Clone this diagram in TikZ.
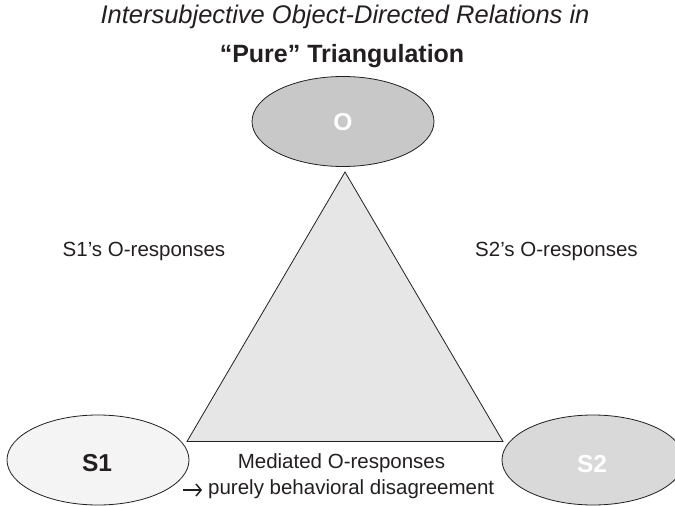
\documentclass[tikz,border=0pt]{standalone}
\usepackage{fontspec}
\setmainfont{Liberation Sans}
\usetikzlibrary{shapes.geometric,arrows.meta}
\definecolor{txt}{HTML}{231F20}
\definecolor{ofill}{HTML}{C8C8C8}
\definecolor{trifill}{HTML}{E6E6E6}
\definecolor{sonefill}{HTML}{F4F4F4}
\definecolor{stwofill}{HTML}{D9D9D9}
\tikzset{
  oval/.style={ellipse, draw=txt, line width=0.8pt, minimum width=182pt, minimum height=90pt, inner sep=0pt},
  ovaltext/.style={font=\fontsize{24.5}{28}\selectfont\bfseries, inner sep=0pt},
  lbl/.style={font=\fontsize{20.5}{24}\selectfont, text=txt, inner sep=0pt},
  ttl/.style={font=\fontsize{25}{30}\selectfont, text=txt, inner sep=0pt},
  textarrow/.style={draw=txt, line width=1.5pt, -{Straight Barb[length=5pt,width=12pt,line width=1.5pt]}}
}
\begin{document}
\begin{tikzpicture}[x=1pt,y=-1pt]
\useasboundingbox (0,0) rectangle (675,506);
\clip (0,0) rectangle (675,506);
% titles
\node[ttl, font=\fontsize{25.5}{30}\selectfont\itshape] (t1) at (345,17) {Intersubjective Object-Directed Relations in};
\node[ttl, font=\fontsize{25}{30}\selectfont\bfseries] (t2) at (342,56) {“Pure” Triangulation};
% triangle
\coordinate (apex) at (345,172);
\coordinate (bl) at (187,441.5);
\coordinate (br) at (503,441.5);
\draw[fill=trifill, draw=txt, line width=0.8pt, line join=miter] (apex) -- (br) -- (bl) -- cycle;
% ovals
\node[oval, fill=ofill] (O) at (343,121.5) {};
\node[ovaltext, text=white] (Ot) at (343,122) {O};
\node[oval, fill=sonefill] (S1) at (98,460) {};
\node[ovaltext, text=txt] (S1t) at (97,463) {S1};
\node[oval, fill=stwofill] (S2) at (593,460) {};
\node[ovaltext, text=white] (S2t) at (592,464) {S2};
% labels
\node[lbl] (l1) at (144,251) {S1’s O-responses};
\node[lbl] (l2) at (556.5,251) {S2’s O-responses};
\node[lbl] (m1) at (341.5,463) {Mediated O-responses};
\node[lbl, anchor=west] (m2) at (208,489) {purely behavioral disagreement};
\coordinate (arrS) at (183,490);
\coordinate (arrE) at (202,490);
\draw[textarrow] (arrS) -- (arrE);
\end{tikzpicture}
\end{document}
